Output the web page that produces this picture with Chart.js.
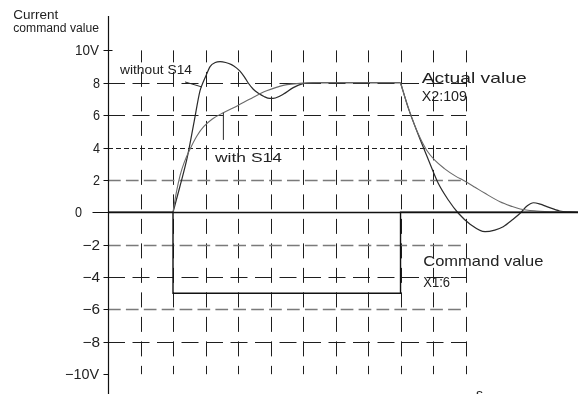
<!DOCTYPE html>
<html><head><meta charset="utf-8">
<script src="https://cdn.jsdelivr.net/npm/chart.js@4.4.0/dist/chart.umd.min.js"></script>
<style>html,body{margin:0;padding:0;background:#fff;overflow:hidden}#wrap{width:585px;height:394px}</style>
</head><body><div id="wrap"><canvas id="c" width="585" height="394"></canvas></div>
<script>
// ---- data ----
const yTickValues = [10, 8, 6, 4, 2, 0, -2, -4, -6, -8, -10];
const yTickLabels = ['10V', '8', '6', '4', '2', '0', '−2', '−4', '−6', '−8', '−10V'];
const gridTimes = [1, 2, 3, 4, 5, 6, 7, 8, 9, 10, 11];
const hGridValues = [8, 6, 2, -2, -4, -6, -8];
const thresholdValue = 4;

const commandT = [0, 2, 2, 9, 9, 14.46];
const commandV = [0, 0, -5, -5, 0, 0];

const withoutRiseT = [2.0, 2.2, 2.44, 2.65, 2.83, 2.93, 3.05, 3.14, 3.3, 3.45, 3.62, 3.8, 3.95, 4.06, 4.2, 4.32, 4.47, 4.63, 4.8, 4.98, 5.15, 5.4, 5.7, 6.0, 6.3, 9.0];
const withoutRiseV = [0, 1.5, 3.4, 5.6, 7.5, 8.05, 8.6, 9.0, 9.25, 9.3, 9.25, 9.12, 8.92, 8.72, 8.35, 7.97, 7.6, 7.35, 7.15, 7.03, 7.06, 7.3, 7.7, 7.95, 8.0, 8.0];
const withoutFallT = [9.0, 9.24, 9.55, 9.86, 10.16, 10.47, 10.78, 11.15, 11.6, 11.9, 12.16, 12.45, 12.68, 12.9, 13.09, 13.3, 13.5, 13.9, 14.2, 14.46];
const withoutFallV = [8.0, 6.43, 4.77, 3.23, 1.79, 0.76, -0.06, -0.75, -1.2, -1.1, -0.89, -0.45, -0.06, 0.4, 0.59, 0.5, 0.35, 0.08, 0.02, 0];

const withRiseT = [2.0, 2.1, 2.22, 2.34, 2.5, 2.73, 2.95, 3.2, 3.55, 4.0, 4.37, 4.88, 5.39, 6.0, 6.5, 9.0];
const withRiseV = [0, 1.2, 2.3, 3.05, 3.8, 4.7, 5.3, 5.75, 6.15, 6.6, 7.0, 7.5, 7.84, 7.98, 8.0, 8.0];
const withFallT = [9.0, 9.24, 9.45, 9.6, 9.8, 10.06, 10.35, 10.68, 11.0, 11.29, 11.6, 12.06, 12.4, 12.68, 13.19, 13.9, 14.46];
const withFallV = [8.0, 6.45, 5.3, 4.6, 3.85, 3.2, 2.7, 2.25, 1.9, 1.55, 1.17, 0.65, 0.38, 0.2, 0.08, 0.02, 0];

// annotation anchors (data units)
const leaderWithout = [[2.37, 8.05], [2.89, 7.74]];
const leaderWith = [[3.55, 6.15], [3.55, 4.47]];

const pts = (T, V) => T.map((t, i) => ({x: t, y: V[i]}));
const grayLines = new Set([2, -2, -6]);

function fitText(ctx, text, x0, x1, baseY, font, color) {
  ctx.save();
  ctx.font = font;
  const w = ctx.measureText(text).width;
  ctx.translate(x0, baseY);
  ctx.scale((x1 - x0) / w, 1);
  ctx.fillStyle = color;
  ctx.textBaseline = 'alphabetic';
  ctx.textAlign = 'left';
  ctx.fillText(text, 0, 0);
  ctx.restore();
}

const cadPlugin = {
  id: 'cad',
  beforeDatasetsDraw(chart) {
    const {ctx, scales: {x, y}} = chart;
    ctx.save();
    // vertical grid
    const yTop = y.getPixelForValue(10), yBot = y.getPixelForValue(-10);
    ctx.strokeStyle = '#1e1e1e'; ctx.lineWidth = 1;
    ctx.setLineDash([15, 9.5]); ctx.lineDashOffset = 3;
    gridTimes.forEach(t => {
      const px = Math.round(x.getPixelForValue(t)) + 0.5;
      ctx.beginPath(); ctx.moveTo(px, yTop); ctx.lineTo(px, yBot); ctx.stroke();
    });
    // horizontal grid
    const xL = x.getPixelForValue(0), xR = x.getPixelForValue(11) + 0.5;
    hGridValues.forEach(v => {
      const py = Math.round(y.getPixelForValue(v)) + 0.5;
      if (grayLines.has(v)) { ctx.strokeStyle = '#7a7a7a'; ctx.lineWidth = 1.3; ctx.setLineDash([12.7, 5.2]); }
      else { ctx.strokeStyle = '#1e1e1e'; ctx.lineWidth = 1; ctx.setLineDash([17, 7.5]); }
      ctx.lineDashOffset = 0;
      ctx.beginPath(); ctx.moveTo(xL, py); ctx.lineTo(xR, py); ctx.stroke();
    });
    // threshold line at 4
    const p4 = Math.round(y.getPixelForValue(thresholdValue)) + 0.5;
    ctx.strokeStyle = '#1e1e1e'; ctx.lineWidth = 1; ctx.setLineDash([5, 3]);
    ctx.beginPath(); ctx.moveTo(xL, p4); ctx.lineTo(xR, p4); ctx.stroke();
    ctx.setLineDash([]);
    // y axis
    const ax = Math.round(x.getPixelForValue(0)) + 0.5;
    ctx.strokeStyle = '#111'; ctx.lineWidth = 1.2;
    ctx.beginPath(); ctx.moveTo(ax, 16); ctx.lineTo(ax, 394); ctx.stroke();
    // zero line
    const z = Math.round(y.getPixelForValue(0)) + 0.5;
    ctx.lineWidth = 1.4;
    ctx.beginPath(); ctx.moveTo(ax, z); ctx.lineTo(x.getPixelForValue(x.max), z); ctx.stroke();
    // ticks + labels
    ctx.lineWidth = 1;
    yTickValues.forEach((v, i) => {
      const py = Math.round(y.getPixelForValue(v)) + 0.5;
      ctx.strokeStyle = '#111';
      ctx.beginPath(); ctx.moveTo(v === 0 ? ax - 16 : ax - 5, py); ctx.lineTo(v === 10 ? ax + 4 : ax, py); ctx.stroke();
      const lab = yTickLabels[i];
      let x0, x1;
      if (lab === '10V') { x0 = 75; x1 = 99; }
      else if (lab === '−10V') { x0 = 65; x1 = 99; }
      else if (lab === '0') { x0 = 75; x1 = 82; }
      else if (lab.length === 2) { x0 = 82.5; x1 = 100; }
      else { x0 = 93; x1 = 100; }
      fitText(ctx, lab, x0, x1, y.getPixelForValue(v) + 5, '14px "Liberation Sans"', '#222');
    });
    ctx.restore();
  },
  afterDatasetsDraw(chart) {
    const {ctx, scales: {x, y}} = chart;
    ctx.save();
    ctx.strokeStyle = '#2a2a2a'; ctx.lineWidth = 1;
    [leaderWithout, leaderWith].forEach(L => {
      ctx.beginPath();
      ctx.moveTo(x.getPixelForValue(L[0][0]), y.getPixelForValue(L[0][1]));
      ctx.lineTo(x.getPixelForValue(L[1][0]), y.getPixelForValue(L[1][1]));
      ctx.stroke();
    });
    const f = '"Liberation Sans"';
    const c = '#222';
    fitText(ctx, 'Current', 13.3, 58.3, 19, '12.5px ' + f, c);
    fitText(ctx, 'command value', 13.3, 99, 31.5, '12.5px ' + f, c);
    fitText(ctx, 'without S14', 120, 192, 73.5, '12.5px ' + f, c);
    fitText(ctx, 'with S14', 215, 282, 161.7, '13.5px ' + f, c);
    fitText(ctx, 'Actual value', 421.7, 526.7, 82.7, '15px ' + f, c);
    fitText(ctx, 'X2:109', 421.7, 467, 100.7, '14px ' + f, c);
    fitText(ctx, 'Command value', 423.3, 543.3, 266.3, '15px ' + f, c);
    fitText(ctx, 'X1:6', 423.3, 450, 286.7, '14px ' + f, c);
    fitText(ctx, 's', 476, 483, 398.5, '15px ' + f, c);
    ctx.restore();
  }
};

new Chart(document.getElementById('c'), {
  type: 'scatter',
  data: {
    datasets: [
      {label: 'Command value', data: pts(commandT, commandV), showLine: true, borderColor: '#111', borderWidth: 1.4, tension: 0},
      {label: 'with S14 rise', data: pts(withRiseT, withRiseV), showLine: true, borderColor: '#6a6a6a', borderWidth: 1.1, cubicInterpolationMode: 'monotone'},
      {label: 'with S14 fall', data: pts(withFallT, withFallV), showLine: true, borderColor: '#6a6a6a', borderWidth: 1.1, cubicInterpolationMode: 'monotone'},
      {label: 'without S14 rise', data: pts(withoutRiseT, withoutRiseV), showLine: true, borderColor: '#2a2a2a', borderWidth: 1.2, cubicInterpolationMode: 'monotone'},
      {label: 'without S14 fall', data: pts(withoutFallT, withoutFallV), showLine: true, borderColor: '#2a2a2a', borderWidth: 1.2, cubicInterpolationMode: 'monotone'}
    ]
  },
  options: {
    responsive: false, animation: false, devicePixelRatio: 1,
    layout: {padding: {left: 108, right: 7, top: 18, bottom: 2}},
    elements: {point: {radius: 0, hoverRadius: 0}},
    scales: {
      x: {type: 'linear', min: 0, max: 14.46, display: false},
      y: {type: 'linear', min: -11.1, max: 12, display: false}
    },
    plugins: {legend: {display: false}, tooltip: {enabled: false}}
  },
  plugins: [cadPlugin]
});
</script></body></html>
